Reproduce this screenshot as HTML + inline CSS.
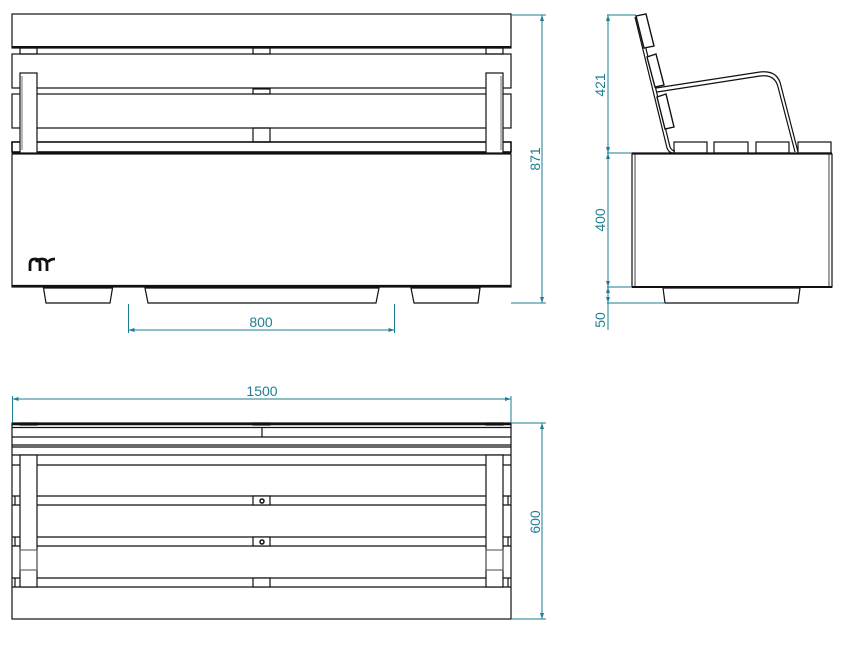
<!DOCTYPE html>
<html><head><meta charset="utf-8"><style>
html,body{margin:0;padding:0;background:#fff;}
svg{display:block;}
text{font-family:"Liberation Sans",sans-serif;font-size:14px;fill:#1e7f93;}
</style></head><body>
<svg width="847" height="648" viewBox="0 0 847 648" xmlns="http://www.w3.org/2000/svg">
<g fill="none" stroke="#111" stroke-width="1.2">
<!-- FRONT VIEW -->
<rect x="12" y="14" width="499" height="34"/>
<line x1="12" y1="47" x2="511" y2="47" stroke-width="2"/>
<rect x="20" y="48" width="17" height="6"/><rect x="253" y="48" width="17" height="6"/><rect x="486" y="48" width="17" height="6"/>
<rect x="12" y="54" width="499" height="34"/>
<rect x="253" y="89" width="17" height="5"/>
<rect x="12" y="94" width="499" height="34"/>
<rect x="253" y="128" width="17" height="14"/>
<rect x="12" y="142" width="499" height="10" stroke-width="1.6"/>
<line x1="12" y1="153" x2="511" y2="153"/>
<rect x="20" y="73" width="17" height="80" fill="#fff"/>
<rect x="486" y="73" width="17" height="80" fill="#fff"/>
<line x1="22" y1="76" x2="22" y2="150" stroke-width="0.6"/>
<line x1="501" y1="76" x2="501" y2="150" stroke-width="0.6"/>
<rect x="12" y="154" width="499" height="133"/>
<line x1="12" y1="286" x2="511" y2="286" stroke-width="2.2"/>
<polygon points="43.5,288 112.5,288 110,303 46,303"/>
<polygon points="145,288 379,288 376,303 148,303"/>
<polygon points="411,288 480,288 478,303 414,303"/>
<!-- logo -->
<path d="M30,271 L30,264 Q30,259 35,259 Q40,259 40,264 L40,271 M36,262 Q38,259 42,259 Q47,259 47,264 L47,271 M48,262 Q50,259 55,259" stroke-width="2.8"/>

<!-- SIDE VIEW -->
<rect x="632" y="154" width="200" height="133"/>
<line x1="635" y1="154" x2="635" y2="287" stroke-width="0.8"/>
<line x1="829" y1="154" x2="829" y2="287" stroke-width="0.8"/>
<line x1="632" y1="287" x2="832" y2="287" stroke-width="2"/>
<line x1="632" y1="153" x2="832" y2="153"/>
<polygon points="663,288 800,288 798,303 665,303"/>
<rect x="674" y="142" width="33" height="11"/>
<rect x="714" y="142" width="34" height="11"/>
<rect x="756" y="142" width="33" height="11"/>
<rect x="798" y="142" width="33" height="11"/>
<!-- back frame -->
<path d="M635,17 L667,148 Q669,153 673,153"/>
<path d="M638,16 L670,147 Q672,151 675,151"/>
<polygon points="636,16 646,14 654,46 644,48" fill="#fff" stroke-width="1.4"/>
<polygon points="647,57 656,54 664,85 655,87" fill="#fff" stroke-width="1.4"/>
<polygon points="657,97 666,94 674,127 665,129" fill="#fff" stroke-width="1.4"/>
<!-- armrest -->
<path d="M656,88 L760,72 Q778,70 781,86 L798,152"/>
<path d="M657,92 L760,76 Q775,74 778,87 L795,152"/>

<!-- TOP VIEW -->
<rect x="12" y="423" width="499" height="196"/>
<line x1="12" y1="424" x2="511" y2="424" stroke-width="2.4"/>
<rect x="20" y="423" width="17" height="2" fill="#111"/><rect x="253" y="423" width="17" height="2" fill="#111"/><rect x="486" y="423" width="17" height="2" fill="#111"/>
<line x1="12" y1="427.5" x2="511" y2="427.5"/>
<line x1="262" y1="427.5" x2="262" y2="437"/>
<line x1="12" y1="437" x2="511" y2="437"/>
<line x1="12" y1="445" x2="511" y2="445"/>
<line x1="12" y1="447" x2="511" y2="447"/>
<line x1="12" y1="455" x2="511" y2="455"/>
<line x1="12" y1="465" x2="511" y2="465"/>
<line x1="12" y1="496" x2="511" y2="496"/>
<line x1="12" y1="505" x2="511" y2="505"/>
<line x1="12" y1="537" x2="511" y2="537"/>
<line x1="12" y1="546" x2="511" y2="546"/>
<line x1="12" y1="578" x2="511" y2="578"/>
<line x1="12" y1="587" x2="511" y2="587"/>
<line x1="15" y1="496" x2="15" y2="505"/><line x1="508" y1="496" x2="508" y2="505"/>
<line x1="15" y1="537" x2="15" y2="546"/><line x1="508" y1="537" x2="508" y2="546"/>
<line x1="15" y1="578" x2="15" y2="587"/><line x1="508" y1="578" x2="508" y2="587"/>
<rect x="20" y="455" width="17" height="132" fill="#fff"/>
<rect x="486" y="455" width="17" height="132" fill="#fff"/>
<rect x="20" y="550" width="17" height="20" stroke="#666"/>
<rect x="486" y="550" width="17" height="20" stroke="#666"/>
<rect x="253" y="496" width="17" height="9" fill="#fff"/>
<rect x="253" y="537" width="17" height="9" fill="#fff"/>
<rect x="253" y="578" width="17" height="9" fill="#fff"/>
<circle cx="262" cy="501" r="2" stroke-width="1.5"/>
<circle cx="262" cy="542" r="2" stroke-width="1.5"/>
</g>

<!-- DIMENSIONS -->
<g fill="none" stroke="#1e7f93" stroke-width="1">
<line x1="511" y1="15" x2="546" y2="15"/><line x1="511" y1="303" x2="546" y2="303"/>
<line x1="542" y1="15" x2="542" y2="303"/>
<line x1="128.5" y1="304" x2="128.5" y2="333"/><line x1="394.5" y1="304" x2="394.5" y2="333"/>
<line x1="128.5" y1="330" x2="394.5" y2="330"/>
<line x1="607" y1="15" x2="636" y2="15"/>
<line x1="607" y1="153" x2="632" y2="153"/>
<line x1="607" y1="287" x2="632" y2="287"/>
<line x1="607" y1="303" x2="665" y2="303"/>
<line x1="608" y1="15" x2="608" y2="330"/>
<line x1="12.5" y1="396" x2="12.5" y2="423"/><line x1="511" y1="396" x2="511" y2="423"/>
<line x1="12.5" y1="399" x2="511" y2="399"/>
<line x1="511" y1="423" x2="546" y2="423"/><line x1="511" y1="619" x2="546" y2="619"/>
<line x1="542" y1="423" x2="542" y2="619"/>
</g>
<g fill="#1e7f93">
<polygon points="542,15 540,21 544,21"/><polygon points="542,303 540,297 544,297"/>
<polygon points="128.5,330 134.5,328 134.5,332"/><polygon points="394.5,330 388.5,328 388.5,332"/>
<polygon points="608,15 606,21 610,21"/><polygon points="608,153 606,147 610,147"/><polygon points="608,153 606,159 610,159"/>
<polygon points="608,287 606,281 610,281"/><polygon points="608,287 606,293 610,293"/><polygon points="608,303 606,297 610,297"/>
<polygon points="12.5,399 18.5,397 18.5,401"/><polygon points="511,399 505,397 505,401"/>
<polygon points="542,423 540,429 544,429"/><polygon points="542,619 540,613 544,613"/>
</g>
<text x="261" y="327" text-anchor="middle">800</text>
<text x="262" y="396" text-anchor="middle">1500</text>
<text transform="translate(540,159) rotate(-90)" text-anchor="middle">871</text>
<text transform="translate(605,85) rotate(-90)" text-anchor="middle">421</text>
<text transform="translate(605,220) rotate(-90)" text-anchor="middle">400</text>
<text transform="translate(605,320) rotate(-90)" text-anchor="middle">50</text>
<text transform="translate(540,522) rotate(-90)" text-anchor="middle">600</text>
</svg>
</body></html>
